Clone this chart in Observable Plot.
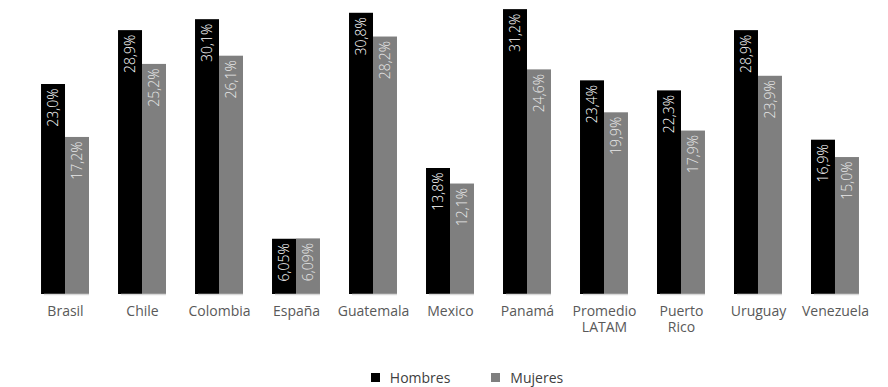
<!DOCTYPE html>
<html>
<head>
<meta charset="utf-8">
<script src="https://cdn.jsdelivr.net/npm/d3@7"></script>
<script src="https://cdn.jsdelivr.net/npm/@observablehq/plot@0.6"></script>
<style>
  html, body { margin: 0; padding: 0; background: #fff; }
  #chart { position: relative; width: 888px; height: 387px; overflow: hidden; }
  #legend { position: absolute; left: 0; top: 361px; width: 888px; display: flex; justify-content: center; padding-left: 46px; box-sizing: border-box; }
  .lg-swatch { margin-right: 41px !important; }
  .lg-swatch:last-child { margin-right: 0 !important; }
  .lg-swatch svg { margin-right: 10px !important; }
</style>
</head>
<body>
<div id="chart"><div id="plot"></div><div id="legend"></div></div>
<script>
const paises = ["Brasil", "Chile", "Colombia", "España", "Guatemala", "Mexico", "Panamá", "Promedio LATAM", "Puerto Rico", "Uruguay", "Venezuela"];
const series = ["Hombres", "Mujeres"];
const hombres = [23.0, 28.9, 30.1, 6.05, 30.8, 13.8, 31.2, 23.4, 22.3, 28.9, 16.9];
const mujeres = [17.2, 25.2, 26.1, 6.09, 28.2, 12.1, 24.6, 19.9, 17.9, 23.9, 15.0];
const colores = ["#000000", "#7f7f7f"];

const data = [];
paises.forEach((p, i) => {
  data.push({pais: p, sexo: series[0], valor: hombres[i]});
  data.push({pais: p, sexo: series[1], valor: mujeres[i]});
});

const fmt = v => {
  const oneDec = Math.abs(v * 10 - Math.round(v * 10)) < 1e-9;
  return (oneDec ? v.toFixed(1) : v.toFixed(2)).replace(".", ",") + "%";
};

const font = "'Open Sans', 'Noto Sans', sans-serif";

const plot = Plot.plot({
  width: 888,
  height: 340,
  marginTop: 0,
  marginBottom: 46,
  marginLeft: 12,
  marginRight: 0,
  style: {fontFamily: font, fontSize: "14px", background: "#fff"},
  fx: {domain: paises, paddingInner: 0.377, paddingOuter: 0.377, round: false, label: null},
  x: {domain: series, padding: 0, round: false, axis: null},
  y: {domain: [0, 32.2], axis: null},
  color: {domain: series, range: colores},
  marks: [
    Plot.barY(data, {fx: "pais", x: "sexo", y: "valor", fill: "sexo"}),
    Plot.ruleY([0], {stroke: "#d9d9d9", strokeWidth: 1.5, insetLeft: 3}),
    Plot.text(data, {filter: d => d.sexo === "Hombres", fx: "pais", x: "sexo", y: "valor", text: d => fmt(d.valor), rotate: -90, textAnchor: "end", dy: 4, fill: "#ffffff", fontSize: 14, fontWeight: 300}),
    Plot.text(data, {filter: d => d.sexo === "Mujeres", fx: "pais", x: "sexo", y: "valor", text: d => fmt(d.valor), rotate: -90, textAnchor: "end", dy: 4, fill: "#e8e8e8", fontSize: 14, fontWeight: 300}),
    Plot.axisFx({anchor: "bottom", tickSize: 0, tickPadding: 10, label: null, fill: "#595959", fontSize: 14, lineHeight: 1.15, tickFormat: d => d.replace(" ", "\n")})
  ]
});
document.getElementById("plot").appendChild(plot);

const legend = plot.legend("color", {swatchSize: 9, className: "lg", style: {fontFamily: font, fontSize: "14px", color: "#404040"}});
document.getElementById("legend").appendChild(legend);
</script>
</body>
</html>
